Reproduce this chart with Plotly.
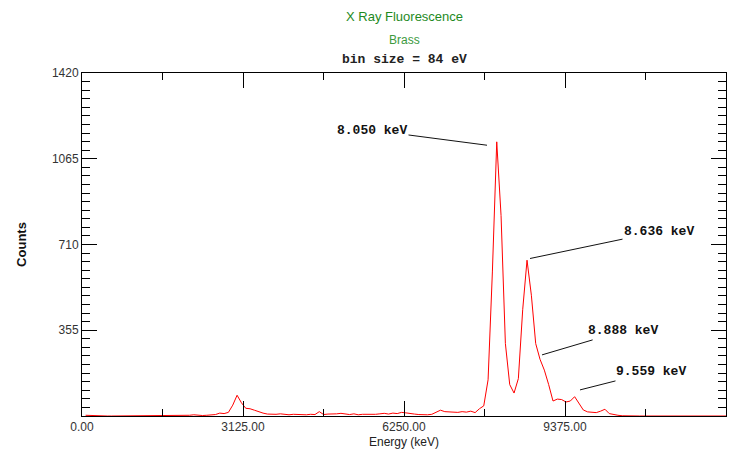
import numpy as np
import plotly.graph_objects as go

# ---- data -------------------------------------------------------------
BIN_SIZE = 84          # eV
BIN_START = 70         # centre of first bin (eV)
counts = [
    3, 2, 0, 0, 0, 0, 0, 0, 0, 0,          # k 0-9
    0, 0, 0, 0, 0, 0, 0, 0, 0, 0,          # k 10-19
    0, 0, 1, 2, 3, 5, 3, 2, 3, 4,          # k 20-29
    6, 12, 10, 15, 45, 86, 55, 32, 30, 24,  # k 30-39
    17, 12, 8, 6, 7, 9, 6, 5, 7, 6,        # k 40-49
    8, 5, 7, 6, 18, 6, 8, 7, 9, 11,        # k 50-59
    8, 6, 9, 5, 7, 6, 8, 7, 9, 11,         # k 60-69
    8, 12, 10, 15, 13, 9, 8, 6, 5, 5,      # k 70-79
    7, 14, 24, 18, 16, 17, 15, 18, 16, 20,  # k 80-89
    14, 30, 42, 150, 600, 1135, 830, 300, 130, 95,  # k 90-99
    155, 440, 645, 500, 300, 235, 190, 130, 62, 70,  # k 100-109
    68, 58, 62, 80, 50, 25, 17, 14, 14, 20,  # k 110-119
    28, 10, 5, 3, 1, 0, 0, 0, 0, 0,        # k 120-129
    0, 0, 0, 0, 0, 0, 0, 0, 0, 0,          # k 130-139
    0, 0, 0, 0, 0, 0, 0, 0, 0,             # k 140-148
]
energy = BIN_START + BIN_SIZE * np.arange(len(counts))

x_tickvals = [0, 3125, 6250, 9375, 12500]
x_ticktext = ["0.00", "3125.00", "6250.00", "9375.00", "12500.00"]
y_tickvals = [0, 355, 710, 1065, 1420]
y_ticktext = ["", "355", "710", "1065", "1420"]

peak_labels = ["8.050 keV", "8.636 keV", "8.888 keV", "9.559 keV"]
peak_ptr_x = [7861, 8696, 8929, 9666]
peak_ptr_y = [1121, 652, 253, 108]
peak_ax = [-115, 129, 81, 71]
peak_ay = [-15, -27, -24, -18]

# ---- figure -----------------------------------------------------------
fig = go.Figure()
fig.add_trace(go.Scatter(x=energy, y=counts, mode="lines",
                         line=dict(color="#ff0000", width=1),
                         showlegend=False, hoverinfo="skip"))

mono = "Liberation Mono, Courier New, monospace"
sans = "Liberation Sans, Arial, Helvetica, sans-serif"

for t, x, y, ax, ay in zip(peak_labels, peak_ptr_x, peak_ptr_y, peak_ax, peak_ay):
    fig.add_annotation(x=x, y=y, xref="x", yref="y", text="<b>%s</b>" % t,
                       showarrow=True, arrowhead=0, arrowwidth=1,
                       arrowcolor="#111111", ax=ax, ay=ay,
                       axref="pixel", ayref="pixel",
                       font=dict(family=mono, size=13, color="#111111"))

fig.add_annotation(x=0.5, y=1.0, xref="paper", yref="paper", yshift=23,
                   text="<b>bin size = 84 eV</b>", showarrow=False,
                   font=dict(family=mono, size=13, color="#222222"))
fig.add_annotation(x=0.5, y=1.0, xref="paper", yref="paper", yshift=42,
                   text="Brass", showarrow=False,
                   font=dict(family=sans, size=12, color="#3d9a3d"))
fig.add_annotation(x=0.5, y=1.0, xref="paper", yref="paper", yshift=66,
                   text="X Ray Fluorescence", showarrow=False,
                   font=dict(family=sans, size=13, color="#1e8a1e"))

axis_common = dict(showline=True, linecolor="black", linewidth=1,
                   mirror="ticks", ticks="inside", tickcolor="black",
                   tickwidth=1, ticklen=15, showgrid=False, zeroline=False,
                   tickfont=dict(family=sans, size=12, color="#333333"))

fig.update_xaxes(range=[0, 12500], tickmode="array", tickvals=x_tickvals,
                 ticktext=x_ticktext,
                 minor=dict(ticks="inside", ticklen=7, dtick=1562.5,
                            tick0=0, tickcolor="black", showgrid=False),
                 title=dict(text="Energy (keV)",
                            font=dict(family=sans, size=12, color="#222222"),
                            standoff=4),
                 **axis_common)
fig.update_yaxes(range=[0, 1420], tickmode="array", tickvals=y_tickvals,
                 ticktext=y_ticktext,
                 minor=dict(ticks="inside", ticklen=8, dtick=35.5,
                            tick0=0, tickcolor="black", showgrid=False),
                 title=dict(text="<b>Counts</b>",
                            font=dict(family=sans, size=13, color="#111111"),
                            standoff=22),
                 **axis_common)

fig.update_layout(width=751, height=450,
                  margin=dict(l=82, r=25, t=73, b=34, autoexpand=False),
                  paper_bgcolor="white", plot_bgcolor="white")

fig.write_html("out.html")
